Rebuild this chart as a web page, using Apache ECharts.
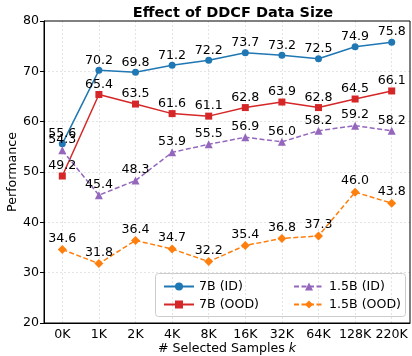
<!DOCTYPE html>
<html><head><meta charset="utf-8">
<script src="https://cdn.jsdelivr.net/npm/echarts@6/dist/echarts.min.js"></script>
<style>html,body{margin:0;padding:0;background:#fff}#c{width:412px;height:356px}</style>
</head><body><div id="c"></div>
<script>
const categories = ['0K','1K','2K','4K','8K','16K','32K','64K','128K','220K'];
const yTicks = [20,30,40,50,60,70,80];
const s7bID = [55.6,70.2,69.8,71.2,72.2,73.7,73.2,72.5,74.9,75.8];
const s7bOOD = [49.2,65.4,63.5,61.6,61.1,62.8,63.9,62.8,64.5,66.1];
const s15bID = [54.3,45.4,48.3,53.9,55.5,56.9,56.0,58.2,59.2,58.2];
const s15bOOD = [34.6,31.8,36.4,34.7,32.2,35.4,36.8,37.3,46.0,43.8];
const names = ['7B (ID)','7B (OOD)','1.5B (ID)','1.5B (OOD)'];

const FONT = 'DejaVu Sans';
const FS = 12.6;
const chart = echarts.init(document.getElementById('c'), null, {renderer:'canvas'});
function mk(name, data, color, symbol, dashed, size){
  return {
    name, type:'line', data, symbol, symbolSize:size,
    itemStyle:{color},
    lineStyle:{color, width:1.5, type: dashed ? [5,2.5] : 'solid'},
    label:{show:true, position:'top', distance:0, color:'#000', fontFamily:FONT, fontSize:FS,
      formatter: p => p.value.toFixed(1)},
    z: 3
  };
}
chart.setOption({
  animation:false,
  textStyle:{fontFamily:FONT},
  title:{text:'Effect of DDCF Data Size', left:228, top:1, textAlign:'center',
    textStyle:{fontFamily:FONT, fontWeight:'bold', fontSize:14.5, color:'#000'}},
  grid:{left:44, right:2, top:21, bottom:33, outerBoundsMode:'none', containLabel:false,
    show:true, borderColor:'#000', borderWidth:1, backgroundColor:'transparent', z:4},
  xAxis:{type:'category', data:categories, boundaryGap:true,
    axisLine:{lineStyle:{color:'#000'}},
    axisTick:{alignWithLabel:true, length:4, lineStyle:{color:'#000'}},
    axisLabel:{color:'#000', fontSize:FS, fontFamily:FONT, margin:5, interval:0},
    splitLine:{show:true, alignWithLabel:true, lineStyle:{color:'#ddd', type:[2,2], width:0.8}},
    name:'{a|# Selected Samples }{b|k}', nameLocation:'middle', nameGap:19, nameMoveOverlap:false,
    nameTextStyle:{rich:{a:{fontFamily:FONT, fontSize:FS, color:'#000'}, b:{fontFamily:FONT, fontSize:FS, fontStyle:'italic', color:'#000'}}}
  },
  yAxis:{type:'value', min:20, max:80, interval:10,
    axisLine:{show:true, lineStyle:{color:'#000'}},
    axisTick:{show:true, length:4, lineStyle:{color:'#000'}},
    axisLabel:{color:'#000', fontSize:FS, fontFamily:FONT, margin:5},
    splitLine:{show:true, showMinLine:false, showMaxLine:false, lineStyle:{color:'#ddd', type:[2,2], width:0.8}},
    name:'Performance', nameLocation:'middle', nameGap:25, nameMoveOverlap:false,
    nameTextStyle:{fontFamily:FONT, fontSize:FS, color:'#000'}
  },
  legend:[
    {data:[names[0],names[1]], orient:'vertical', left:158, top:275, itemGap:5, itemWidth:30, itemHeight:10,
      textStyle:{fontFamily:FONT, fontSize:FS, color:'#000'}},
    {data:[names[2],names[3]], orient:'vertical', left:288, top:275, itemGap:5, itemWidth:30, itemHeight:10,
      textStyle:{fontFamily:FONT, fontSize:FS, color:'#000'}}
  ],
  graphic:[{type:'rect', left:155, top:273, shape:{width:250, height:43, r:3},
    style:{fill:'rgba(255,255,255,0.8)', stroke:'#ccc', lineWidth:1}, z:0}],
  series:[
    mk(names[0], s7bID, '#1f77b4', 'circle', false, 7),
    mk(names[1], s7bOOD, '#d62728', 'rect', false, 7),
    mk(names[2], s15bID, '#9467bd', 'triangle', true, 8),
    mk(names[3], s15bOOD, '#ff7f0e', 'diamond', true, 9)
  ]
});
</script></body></html>
